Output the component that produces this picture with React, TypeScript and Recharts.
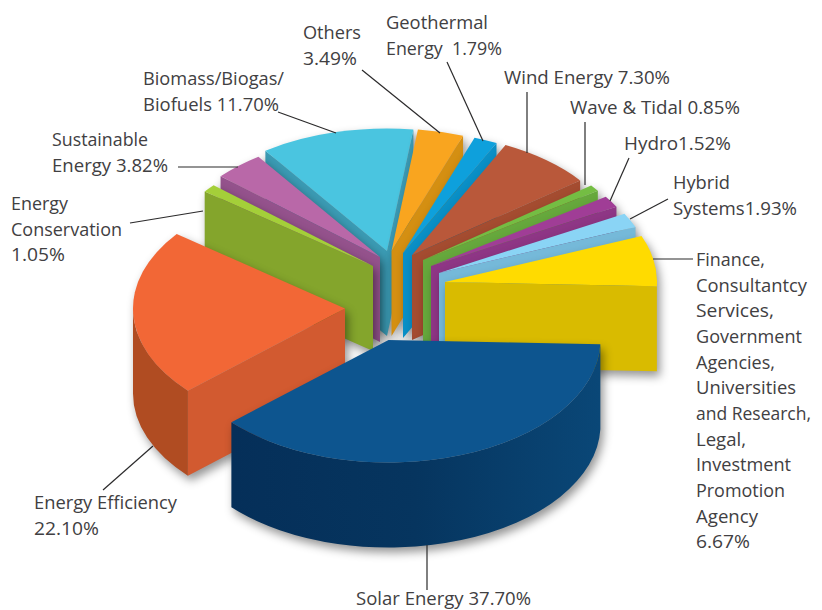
import React from "react";
import { PieChart, Pie } from "recharts";

const categories = [
  "Solar Energy", "Energy Efficiency", "Energy Conservation", "Sustainable Energy",
  "Biomass/Biogas/Biofuels", "Others", "Geothermal Energy", "Wind Energy",
  "Wave & Tidal", "Hydro", "Hybrid Systems", "Finance etc.",
];
const shares = [37.7, 22.1, 1.05, 3.82, 11.7, 3.49, 1.79, 7.3, 0.85, 1.52, 1.93, 6.67];

const labelLines = [
  ["Solar Energy 37.70%"],
  ["Energy Efficiency", "22.10%"],
  ["Energy", "Conservation", "1.05%"],
  ["Sustainable", "Energy 3.82%"],
  ["Biomass/Biogas/", "Biofuels 11.70%"],
  ["Others", "3.49%"],
  ["Geothermal", "Energy  1.79%"],
  ["Wind Energy 7.30%"],
  ["Wave & Tidal 0.85%"],
  ["Hydro1.52%"],
  ["Hybrid", "Systems1.93%"],
  ["Finance,", "Consultantcy", "Services,", "Government", "Agencies,", "Universities", "and Research,", "Legal,", "Investment", "Promotion", "Agency", "6.67%"],
];

// Layout and style only (no values)
const labelWidths = [
  [175], [143, 65], [57, 111, 54], [96, 116], [141, 136], [58, 54], [102, 116],
  [166], [170], [107], [57, 124],
  [69, 111, 78, 106, 79, 100, 115, 50, 95, 89, 62, 54],
];
const topColors = ["#0d558f", "#f26736", "#a4cf39", "#b968a8", "#4ac5e0", "#f9a51f", "#0ea0dc", "#b9583a", "#74bd43", "#a03d96", "#8ad4f5", "#ffdb00"];
const faceColors = ["#0a4777", "#d25a30", "#84a52c", "#94528c", "#3b9bb4", "#d48f12", "#0a8fc6", "#a44c30", "#66a83c", "#8e3685", "#75b9d9", "#d9bb00"];
const wallColors = ["url(#solarWall)", "#b04c22", "#84a52c", "#94528c", "#3b9bb4", "#d48f12", "#0a8fc6", "#a44c30", "#66a83c", "#8e3685", "#75b9d9", "#d9bb00"];
const sliceCenters = [
  [388.5, 340], [345, 308.5], [373, 266], [380, 257], [387, 251], [391.5, 251],
  [403, 253], [412, 255], [423, 260], [431, 266], [439, 273], [445, 282],
];
const paintOrder = [4, 5, 6, 7, 8, 9, 10, 11, 3, 2, 1, 0];
const labelAnchors = [
  [356, 605], [34, 509], [11, 210], [52, 146], [143, 85], [303, 39],
  [386, 29], [504, 84], [570, 114], [624, 150], [673, 189], [696, 266],
];
const leaders = [
  [427, 545, 427, 590], [153, 446, 103, 490], [203, 211, 130, 223], [238, 167, 178, 167],
  [336, 133, 278, 112], [440, 133, 362, 70], [483, 141, 447, 62], [527, 153, 527, 92],
  [585, 185, 585, 122], [610, 201, 629, 158], [630, 219, 668, 199], [653, 259, 693, 259],
];

const RADIUS = 212;
const TILT = 122.5 / 212;
const DEPTH = 85;
const LINE_STEP = 25.65;

const table = categories.map((name, i) => ({ name, value: shares[i] }));

const rad = (d: number) => (d * Math.PI) / 180;

function SliceShape(props: any) {
  const { cx, cy, outerRadius: r, startAngle, endAngle, idx } = props;
  const t1 = -startAngle;
  const t2 = -endAngle;
  const ry = r * TILT;
  const px = (t: number) => cx + r * Math.cos(rad(t));
  const py = (t: number) => cy + ry * Math.sin(rad(t));
  const arc = (a: number, b: number, sweep: 0 | 1) =>
    `A ${r} ${ry} 0 ${Math.abs(b - a) > 180 ? 1 : 0} ${sweep} ${px(b)} ${py(b)}`;

  const faces: React.ReactNode[] = [];
  const face = (t: number, key: string) => (
    <path
      key={key}
      d={`M ${cx} ${cy} L ${px(t)} ${py(t)} L ${px(t)} ${py(t) + DEPTH} L ${cx} ${cy + DEPTH} Z`}
      fill={faceColors[idx]}
    />
  );
  if (Math.cos(rad(t1)) < 0) faces.push(face(t1, "a"));
  if (Math.cos(rad(t2)) > 0) faces.push(face(t2, "b"));

  const walls: React.ReactNode[] = [];
  const wall = (a: number, b: number, key: string) => (
    <path
      key={key}
      d={`M ${px(a)} ${py(a)} ${arc(a, b, 1)} L ${px(b)} ${py(b) + DEPTH} A ${r} ${ry} 0 0 0 ${px(a)} ${py(a) + DEPTH} Z`}
      fill={wallColors[idx]}
    />
  );
  const a0 = Math.max(t1, 0);
  const b0 = Math.min(t2, 180);
  if (b0 > a0) walls.push(wall(a0, b0, "w0"));
  if (t2 > 360) walls.push(wall(360, t2, "w1"));

  return (
    <g style={{ filter: "drop-shadow(3px 5px 5px rgba(0,0,0,0.42))" }}>
      <defs>
        <linearGradient id="solarWall" x1="0" y1="0" x2="1" y2="0">
          <stop offset="0" stopColor="#052f59" />
          <stop offset="0.5" stopColor="#06355f" />
          <stop offset="1" stopColor="#0a4777" />
        </linearGradient>
      </defs>
      {faces}
      {walls}
      <path d={`M ${cx} ${cy} L ${px(t1)} ${py(t1)} ${arc(t1, t2, 1)} Z`} fill={topColors[idx]} />
    </g>
  );
}

function renderLabel(props: any) {
  const i = categories.indexOf(props.name ?? props.payload?.name);
  if (i < 0) return null;
  const [x, y] = labelAnchors[i];
  const [x1, y1, x2, y2] = leaders[i];
  return (
    <g key={categories[i]}>
      <line x1={x1} y1={y1} x2={x2} y2={y2} stroke="#2b2a2b" strokeWidth={1.2} />
      {labelLines[i].map((line, k) => (
        <text
          key={k}
          x={x}
          y={y + k * LINE_STEP}
          fontFamily="'Open Sans', sans-serif"
          fontSize={18}
          fill="#414042"
          textAnchor="start"
          textLength={labelWidths[i][k]}
          lengthAdjust="spacingAndGlyphs"
          xmlSpace="preserve"
        >
          {line}
        </text>
      ))}
    </g>
  );
}

export default function App() {
  return (
    <div style={{ position: "absolute", left: 0, top: 0, width: 822, height: 610, background: "#fff", overflow: "hidden" }}>
      <PieChart width={822} height={610} margin={{ top: 0, right: 0, bottom: 0, left: 0 }}>
        {paintOrder.map((idx) => (
          <Pie
            key={categories[idx]}
            data={table}
            dataKey="value"
            nameKey="name"
            cx={sliceCenters[idx][0]}
            cy={sliceCenters[idx][1]}
            innerRadius={0}
            outerRadius={RADIUS}
            startAngle={-2}
            endAngle={-362}
            stroke="none"
            isAnimationActive={false}
            shape={(p: any) =>
              (p.name ?? p.payload?.name) === categories[idx] ? <SliceShape {...p} idx={idx} /> : <g />
            }
          />
        ))}
        <Pie
          key="labels"
          data={table}
          dataKey="value"
          nameKey="name"
          cx={400}
          cy={300}
          outerRadius={RADIUS}
          startAngle={-2}
          endAngle={-362}
          stroke="none"
          isAnimationActive={false}
          shape={() => <g />}
          labelLine={false}
          label={renderLabel}
        />
      </PieChart>
    </div>
  );
}
